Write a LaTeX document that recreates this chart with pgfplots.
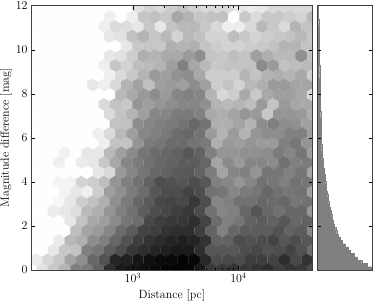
\documentclass[border=0pt]{standalone}
\usepackage{pgfplots}
\usepackage{pgfplotstable}
\pgfplotsset{compat=1.18}
\pgfdeclareplotmark{hexa}{%
  \pgfpathmoveto{\pgfqpoint{0bp}{6.48bp}}%
  \pgfpathlineto{\pgfqpoint{5.64bp}{3.24bp}}%
  \pgfpathlineto{\pgfqpoint{5.64bp}{-3.24bp}}%
  \pgfpathlineto{\pgfqpoint{0bp}{-6.48bp}}%
  \pgfpathlineto{\pgfqpoint{-5.64bp}{-3.24bp}}%
  \pgfpathlineto{\pgfqpoint{-5.64bp}{3.24bp}}%
  \pgfpathclose\pgfusepathqfillstroke}
\pgfplotstableread{
k c0 c1 c2 c3 c4 c5 c6 c7 c8 c9 c10 c11 c12 c13 c14 c15 c16 c17 c18 c19 c20 c21 c22 c23 c24 c25
27 99 99 99 99 99 99 99 99 99 88 82 85 80 75 82 85 85 85 90 92 90 85 85 85 85 99
26 99 99 99 99 99 99 99 93 99 93 77 75 78 65 70 77 75 75 99 78 85 78 78 80 82 72
25 99 99 99 99 99 99 93 85 86 90 78 90 76 72 72 78 84 93 92 85 72 78 85 70 76 99
24 99 99 99 99 99 99 99 90 88 75 70 77 72 82 72 75 82 82 74 78 82 80 78 76 72 78
23 99 99 99 99 99 99 99 99 90 78 77 78 68 70 68 76 80 82 82 80 78 76 70 70 76 99
22 99 99 99 99 99 99 99 90 88 80 68 70 66 66 60 55 76 78 74 76 62 68 72 72 56 75
21 99 99 99 99 99 99 93 77 82 74 73 70 62 50 65 72 78 76 76 76 54 60 76 74 72 99
20 99 99 99 99 99 99 99 93 85 78 70 60 62 57 55 65 80 80 80 70 76 70 68 70 66 80
19 99 99 99 99 99 90 93 85 70 63 75 62 60 62 55 62 80 76 82 72 68 60 60 64 64 99
18 99 99 99 99 99 99 99 99 72 66 60 55 60 52 50 52 70 84 80 66 78 66 62 62 66 84
17 99 99 99 99 99 99 85 76 78 58 62 58 55 52 52 56 70 72 70 74 60 76 60 65 66 99
16 99 99 99 99 99 99 99 85 76 70 62 52 52 48 48 50 66 68 64 58 60 78 58 58 60 68
15 99 99 99 99 99 99 99 76 75 55 52 50 47 45 40 45 68 68 64 70 55 50 55 56 62 99
14 99 99 99 99 99 99 93 85 72 62 52 50 47 42 40 45 60 70 60 70 58 55 55 50 50 62
13 99 99 99 99 99 99 93 76 76 58 48 46 42 42 45 48 68 60 62 58 60 60 50 46 58 99
12 99 99 99 94 99 90 90 72 62 54 46 42 40 38 34 38 50 58 58 56 56 55 48 52 46 62
11 99 99 93 99 92 90 78 65 52 48 44 40 38 36 36 40 64 54 60 52 52 54 44 50 48 99
10 99 99 99 99 99 99 90 85 60 52 46 40 38 35 34 38 48 64 52 50 58 46 46 50 46 64
9 99 99 95 95 82 80 74 58 50 44 38 30 32 33 30 34 50 52 58 52 44 46 50 44 46 99
8 99 99 99 95 90 93 80 62 56 48 42 34 30 30 26 30 44 46 52 48 46 40 44 46 44 62
7 99 99 96 90 80 75 68 56 48 40 35 28 26 28 22 30 52 50 44 44 40 42 40 46 44 99
6 99 99 92 90 86 72 68 58 50 44 36 30 28 24 22 30 44 52 50 40 33 40 44 40 40 58
5 99 99 99 90 76 66 62 54 46 42 28 24 22 22 18 26 42 50 46 38 36 38 34 40 38 99
4 99 99 99 99 74 64 60 52 42 36 26 24 20 18 18 24 38 50 40 36 36 36 32 38 36 52
3 99 99 92 72 68 55 50 40 32 24 20 17 14 12 14 20 38 38 30 32 30 26 34 30 34 99
2 99 99 90 78 76 50 46 36 30 22 18 14 12 10 10 18 34 34 34 30 28 32 30 26 32 42
1 92 84 78 64 56 40 32 14 13 8 6 4 3 1 3 16 30 28 30 24 24 26 18 28 20 99
0 92 88 78 70 50 48 38 18 10 8 6 4 2 1 2 10 22 22 20 22 20 18 24 20 22 30
}\hexdata
\begin{document}
\begin{tikzpicture}[x=1bp,y=1bp]
\path[use as bounding box] (0,0) rectangle (374,301);
\begin{axis}[
  at={(31bp,31bp)},anchor=south west,
  scale only axis,width=281.7bp,height=264.3bp,
  xmode=log,xmin=108.4,xmax=50466,ymin=0,ymax=12,
  ytick={0,2,4,6,8,10,12},xtick={1000,10000},
  minor y tick num=0,
  tick align=inside,tick pos=both,
  major tick length=4bp,minor tick length=2bp,
  every tick/.style={black,line width=0.4pt},
  axis line style={line width=0.7pt,black!75},
  axis on top,
  clip mode=individual,
  xlabel={Distance [pc]},ylabel={Magnitude difference [mag]},
  ylabel shift=-3bp,
  label style={font=\fontsize{12}{14}\selectfont},
  tick label style={font=\fontsize{12}{14}\selectfont},
  colormap={greyg}{gray(0cm)=(0); gray(1cm)=(1)},
  point meta min=0,point meta max=100,
  clip marker paths=true,
  scatter/use mapped color={draw=mapped color,fill=mapped color},
  mark options={line width=0.15pt},
]
\pgfplotsinvokeforeach{0,...,25}{
  \addplot[scatter,only marks,mark=hexa,point meta=explicit] table[
    x expr={10^(2.035+(2*#1+mod(\thisrow{k},2))*0.05335)},
    y expr={0.0136+0.4412*\thisrow{k}},
    meta=c#1] {\hexdata};
}
\end{axis}
\begin{axis}[
  at={(317.3bp,31bp)},anchor=south west,
  scale only axis,width=55.4bp,height=264.3bp,
  xmin=0,xmax=1,ymin=0,ymax=12,
  ytick={0,2,4,6,8,10,12},yticklabels={},xtick=\empty,
  tick align=inside,tick pos=both,
  major tick length=4bp,
  every tick/.style={black,line width=0.4pt},
  axis line style={line width=0.7pt,black!75},
  axis on top,
]
\addplot[xbar interval,fill=black!50,draw=black!50,line width=0.1pt] coordinates {
(.99,0) (.90,.15) (.80,.3) (.72,.45) (.66,.6) (.60,.75) (.55,.9) (.50,1.05) (.45,1.2) (.41,1.35)
(.37,1.5) (.35,1.65) (.33,1.8) (.31,1.95) (.29,2.1) (.27,2.25) (.26,2.4) (.245,2.55) (.23,2.7) (.22,2.85)
(.205,3) (.195,3.15) (.185,3.3) (.175,3.45) (.165,3.6) (.158,3.75) (.15,3.9) (.142,4.05) (.135,4.2) (.127,4.35)
(.12,4.5) (.112,4.65) (.105,4.8) (.098,4.95) (.09,5.1) (.085,5.25) (.08,5.4) (.078,5.55) (.075,5.7) (.072,5.85)
(.07,6) (.066,6.3) (.063,6.6) (.06,6.9) (.057,7.2) (.055,7.5) (.052,7.8) (.05,8.1) (.047,8.4) (.044,8.7)
(.041,9) (.039,9.3) (.036,9.6) (.034,9.9) (.032,10.2) (.03,10.5) (.028,10.8) (.025,11.1) (.022,11.4) (.02,11.7) (.02,12)
};
\end{axis}
\end{tikzpicture}
\end{document}
